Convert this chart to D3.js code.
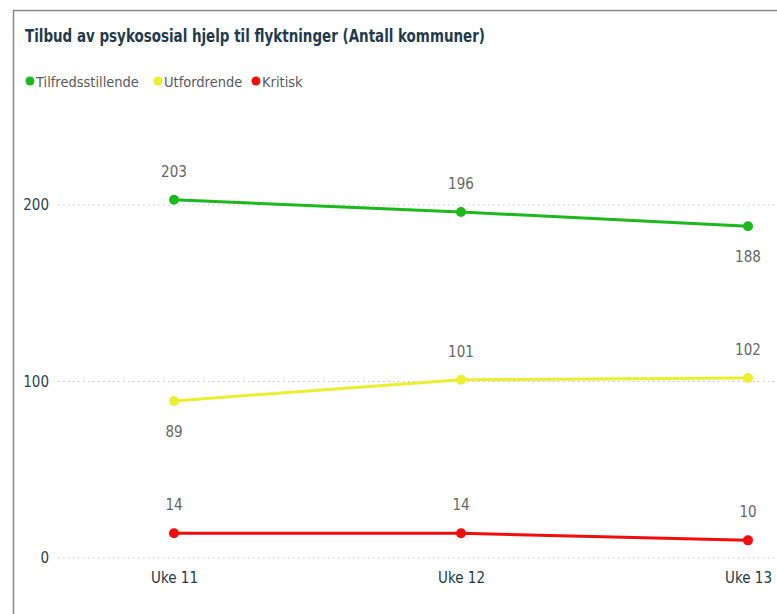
<!DOCTYPE html>
<html><head><meta charset="utf-8">
<script src="https://cdn.jsdelivr.net/npm/d3@7"></script>
<style>body{margin:0;background:#fff;} svg{display:block;}</style>
</head><body>
<script>
const categories = ["Uke 11", "Uke 12", "Uke 13"];
const seriesNames = ["Tilfredsstillende", "Utfordrende", "Kritisk"];
const tilfredsstillende = [203, 196, 188];
const utfordrende = [89, 101, 102];
const kritisk = [14, 14, 10];
const yTicks = [0, 100, 200];
const colors = ["#1CB91C", "#ECEF2E", "#F20C0C"];
// label placement: above or below
const labelPos = [["above","above","below"],["below","above","above"],["above","above","above"]];

const W = 777, H = 614;
const svg = d3.select("body").append("svg").attr("width", W).attr("height", H);
const font = "'Liberation Sans Narrow','DejaVu Sans Condensed',Arial,sans-serif";

// frame
svg.append("path").attr("d", `M13.5,${H} V10.5 H${W}`).attr("fill","none").attr("stroke","#8a8a8a").attr("stroke-width",1.5);

svg.append("text").attr("x",25).attr("y",42).text("Tilbud av psykososial hjelp til flyktninger (Antall kommuner)")
  .attr("font-family",font).attr("font-weight","bold").attr("font-size",18).attr("fill","#1F3B4D")
  .attr("textLength",460).attr("lengthAdjust","spacingAndGlyphs");

const x = d3.scalePoint().domain(categories).range([174, 748]);
const y = d3.scaleLinear().domain([0, 200]).range([558, 205]);

// legend
const legendX = [30, 158, 256];
seriesNames.forEach((n,i)=>{
  svg.append("circle").attr("cx",legendX[i]).attr("cy",81).attr("r",4.5).attr("fill",colors[i]);
  svg.append("text").attr("x",legendX[i]+6).attr("y",86.5).text(n)
    .attr("font-family",font).attr("font-size",14.5).attr("fill","#5a5a5a");
});

// grid
const grid = svg.append("g");
yTicks.forEach(t=>{
  grid.append("line").attr("x1",58).attr("x2",W).attr("y1",y(t)).attr("y2",y(t))
    .attr("stroke","#c4c4c4").attr("stroke-width",1).attr("stroke-dasharray","1.5,3.5");
});

// y axis
const yAxis = d3.axisLeft(y).tickValues(yTicks).tickSize(0).tickPadding(0);
const gy = svg.append("g").attr("transform","translate(49,0)").call(yAxis);
gy.select(".domain").remove();
gy.selectAll("text").attr("font-family",font).attr("font-size",15).attr("fill","#2B3F52");

// x axis
const xAxis = d3.axisBottom(x).tickSize(0).tickPadding(0);
const gx = svg.append("g").attr("transform","translate(0,572)").call(xAxis);
gx.select(".domain").remove();
gx.selectAll("text").attr("font-family",font).attr("font-size",15).attr("fill","#233849");

const series = [tilfredsstillende, utfordrende, kritisk];
const line = d3.line().x((d,i)=>x(categories[i])).y(d=>y(d));
series.forEach((s,si)=>{
  svg.append("path").datum(s).attr("d",line).attr("fill","none").attr("stroke",colors[si]).attr("stroke-width",3);
  svg.selectAll(null).data(s).enter().append("circle")
    .attr("cx",(d,i)=>x(categories[i])).attr("cy",d=>y(d)).attr("r",5).attr("fill",colors[si]);
  svg.selectAll(null).data(s).enter().append("text")
    .attr("x",(d,i)=>x(categories[i]))
    .attr("y",(d,i)=> labelPos[si][i]==="above" ? y(d)-23 : y(d)+36)
    .attr("text-anchor","middle").text(d=>d)
    .attr("font-family","'DejaVu Sans Condensed','Liberation Sans Narrow',sans-serif").attr("font-size",15).attr("fill","#666");
});
</script>
</body></html>
